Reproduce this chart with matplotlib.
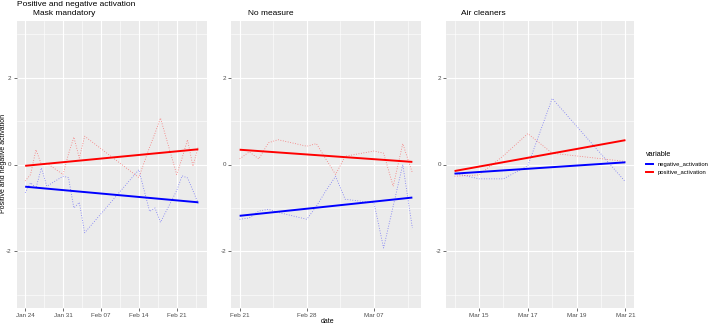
import matplotlib
matplotlib.use("Agg")
import matplotlib.pyplot as plt
import matplotlib.dates as mdates
from matplotlib.lines import Line2D
import numpy as np

plt.rcParams['font.family'] = ['Liberation Sans', 'DejaVu Sans']

W, H = 709, 325

# ---------------- data ----------------
main_title = "Positive and negative activation"
panel_titles = ["Mask mandatory", "No measure", "Air cleaners"]
series_names = ["negative_activation", "positive_activation"]

mask_dates = np.array(["2022-01-24", "2022-01-25", "2022-01-26", "2022-01-27", "2022-01-28",
                       "2022-01-31", "2022-02-01", "2022-02-02", "2022-02-03", "2022-02-04",
                       "2022-02-14", "2022-02-15", "2022-02-16", "2022-02-17", "2022-02-18",
                       "2022-02-21", "2022-02-22", "2022-02-23", "2022-02-24", "2022-02-25"],
                      dtype="datetime64[D]")
mask_pos = [-0.38, -0.23, 0.34, 0.00, 0.03,
            -0.23, 0.24, 0.63, 0.15, 0.65,
            -0.30, 0.05, 0.40, 0.72, 1.07,
            -0.23, 0.15, 0.57, -0.04, 0.42]
mask_neg = [-0.65, -0.42, -0.54, -0.08, -0.50,
            -0.27, -0.30, -1.00, -0.87, -1.57,
            -0.12, -0.60, -1.08, -1.00, -1.33,
            -0.60, -0.26, -0.31, -0.60, -0.90]
mask_trend_pos = [-0.03, 0.35]
mask_trend_neg = [-0.51, -0.87]
mask_ticks = np.array(["2022-01-24", "2022-01-31", "2022-02-07", "2022-02-14", "2022-02-21"],
                      dtype="datetime64[D]")
mask_ticklabels = ["Jan 24", "Jan 31", "Feb 07", "Feb 14", "Feb 21"]

none_dates = np.array(["2022-02-21", "2022-02-22", "2022-02-23", "2022-02-24", "2022-02-25",
                       "2022-02-28", "2022-03-01", "2022-03-02", "2022-03-03", "2022-03-04",
                       "2022-03-07", "2022-03-08", "2022-03-09", "2022-03-10", "2022-03-11"],
                      dtype="datetime64[D]")
none_pos = [0.13, 0.29, 0.13, 0.50, 0.57,
            0.42, 0.48, 0.12, -0.23, 0.19,
            0.31, 0.26, -0.50, 0.48, -0.19]
none_neg = [-1.26, -1.23, -1.07, -1.03, -1.10,
            -1.26, -0.96, -0.60, -0.27, -0.80,
            -0.88, -1.92, -0.96, 0.00, -1.46]
none_trend_pos = [0.34, 0.06]
none_trend_neg = [-1.18, -0.76]
none_ticks = np.array(["2022-02-21", "2022-02-28", "2022-03-07"], dtype="datetime64[D]")
none_ticklabels = ["Feb 21", "Feb 28", "Mar 07"]

air_dates = np.array(["2022-03-14", "2022-03-15", "2022-03-16", "2022-03-17", "2022-03-18",
                      "2022-03-21"], dtype="datetime64[D]")
air_pos = [-0.27, -0.24, 0.20, 0.71, 0.26, 0.07]
air_neg = [-0.20, -0.33, -0.33, -0.03, 1.52, -0.40]
air_trend_pos = [-0.15, 0.56]
air_trend_neg = [-0.21, 0.05]
air_ticks = np.array(["2022-03-15", "2022-03-17", "2022-03-19", "2022-03-21"], dtype="datetime64[D]")
air_ticklabels = ["Mar 15", "Mar 17", "Mar 19", "Mar 21"]

y_ticks = [-2, 0, 2]
y_ticklabels = ["-2", "0", "2"]
y_minor = [-3, -1, 1, 3]

# ---------------- figure ----------------
fig = plt.figure(figsize=(W / 100, H / 100), dpi=100)
fig.patch.set_facecolor("white")

PANEL_BG = "#EBEBEB"
BLUE = "#0000FF"
RED = "#FF0000"

panels = [
    (16.5, 207, mask_dates, mask_pos, mask_neg, mask_trend_pos, mask_trend_neg, mask_ticks, mask_ticklabels),
    (231, 421, none_dates, none_pos, none_neg, none_trend_pos, none_trend_neg, none_ticks, none_ticklabels),
    (446, 634, air_dates, air_pos, air_neg, air_trend_pos, air_trend_neg, air_ticks, air_ticklabels),
]
top_px, bot_px = 21, 308


def to_num(arr):
    return mdates.date2num(arr.astype("datetime64[s]").astype(object))


for i, (l, r, d, pos, neg, tp, tn, tks, tkl) in enumerate(panels):
    ax = fig.add_axes([l / W, 1 - bot_px / H, (r - l) / W, (bot_px - top_px) / H])
    ax.set_facecolor(PANEL_BG)
    for s in ax.spines.values():
        s.set_visible(False)
    xn = to_num(d)
    x0, x1 = xn.min(), xn.max()
    pad = (x1 - x0) * 0.05
    tn_num = to_num(tks)
    step = tn_num[1] - tn_num[0]
    minor = np.arange(tn_num[0] - step / 2, x1 + pad + step, step)
    minor = minor[(minor > x0 - pad) & (minor < x1 + pad)]
    ax.set_xticks(tn_num)
    ax.set_xticklabels(tkl)
    ax.set_xticks(minor, minor=True)
    ax.set_yticks(y_ticks)
    ax.set_yticklabels(y_ticklabels)
    ax.set_yticks(y_minor, minor=True)
    ax.grid(which="major", color="white", linewidth=0.8)
    ax.grid(which="minor", color="white", linewidth=0.4)
    ax.set_axisbelow(True)
    ax.tick_params(which="major", length=2, width=0.5, color="#333333",
                   labelsize=4.5, labelcolor="#4D4D4D", pad=1.5)
    ax.tick_params(which="minor", length=0)
    # raw series (dotted)
    ax.plot(xn, neg, color=BLUE, linestyle=(0, (1, 2)), linewidth=0.6, alpha=0.5)
    ax.plot(xn, pos, color=RED, linestyle=(0, (1, 2)), linewidth=0.6, alpha=0.5)
    # trend lines
    ax.plot([x0, x1], tn, color=BLUE, linewidth=1.4, solid_capstyle="butt")
    ax.plot([x0, x1], tp, color=RED, linewidth=1.4, solid_capstyle="butt")
    ax.set_xlim(x0 - pad, x1 + pad)
    ax.set_ylim(-3.3, 3.3)

# titles
fig.text(17 / W, 1 - 5 / H, main_title, fontsize=6, va="center", ha="left", color="black")
for xpx, t in zip([33, 248, 461], panel_titles):
    fig.text(xpx / W, 1 - 13.5 / H, t, fontsize=6, va="center", ha="left", color="black")

fig.text(4 / W, 1 - 163 / H, "Positive and negative activation", rotation=90,
         fontsize=5, va="center", ha="center", color="black")
fig.text(328 / W, 1 - 321.5 / H, "date", fontsize=5, va="center", ha="center", color="black")

handles = [Line2D([0], [0], color=BLUE, linewidth=1.4),
           Line2D([0], [0], color=RED, linewidth=1.4)]
leg = fig.legend(handles, series_names, title="variable", loc="upper left",
                 bbox_to_anchor=(641 / W, 1 - 146 / H), frameon=False,
                 fontsize=4.2, title_fontsize=5.2, handlelength=1.2,
                 handletextpad=0.8, labelspacing=0.6, alignment="left")
for t in leg.get_texts():
    t.set_color("black")

fig.savefig("out.png", dpi=100, facecolor="white")
